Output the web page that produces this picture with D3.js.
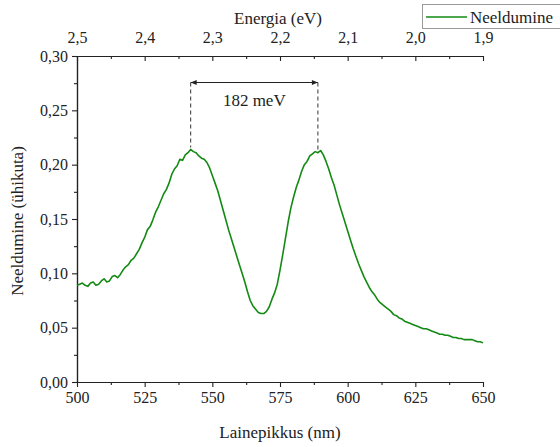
<!DOCTYPE html>
<html>
<head>
<meta charset="utf-8">
<script src="https://cdn.jsdelivr.net/npm/d3@7"></script>
</head>
<body style="margin:0">
<script>
// Absorption spectrum: wavelength (nm) and absorbance (arbitrary units)
const wavelengths = d3.range(500, 651, 1);
const absorbance = [
  0.089, 0.090, 0.091, 0.089, 0.088, 0.091, 0.092, 0.089, 0.090, 0.093,
  0.095, 0.092, 0.093, 0.097, 0.098, 0.096, 0.099, 0.103, 0.106, 0.108,
  0.112, 0.114, 0.118, 0.122, 0.128, 0.133, 0.140, 0.143, 0.149, 0.156,
  0.161, 0.167, 0.173, 0.177, 0.183, 0.191, 0.196, 0.199, 0.205, 0.204,
  0.209, 0.211, 0.214, 0.212, 0.211, 0.208, 0.206, 0.205, 0.202, 0.197,
  0.190, 0.183, 0.176, 0.167, 0.158, 0.149, 0.140, 0.132, 0.124, 0.116,
  0.108, 0.100, 0.092, 0.083, 0.075, 0.070, 0.067, 0.064, 0.063, 0.063,
  0.065, 0.069, 0.076, 0.082, 0.090, 0.103, 0.117, 0.132, 0.147, 0.160,
  0.170, 0.179, 0.186, 0.194, 0.200, 0.203, 0.208, 0.210, 0.212, 0.211,
  0.213, 0.209, 0.203, 0.196, 0.188, 0.181, 0.172, 0.163, 0.155, 0.147,
  0.139, 0.131, 0.123, 0.116, 0.109, 0.103, 0.097, 0.092, 0.087, 0.083,
  0.080, 0.076, 0.073, 0.071, 0.069, 0.067, 0.065, 0.062, 0.061, 0.059,
  0.058, 0.056, 0.055, 0.054, 0.053, 0.052, 0.051, 0.050, 0.049, 0.049,
  0.048, 0.047, 0.046, 0.045, 0.044, 0.044, 0.043, 0.043, 0.042, 0.041,
  0.041, 0.040, 0.040, 0.039, 0.039, 0.039, 0.039, 0.038, 0.037, 0.037,
  0.036
];
const xTicks = [500, 525, 550, 575, 600, 625, 650];
const yTicks = [0, 0.05, 0.10, 0.15, 0.20, 0.25, 0.30];
const energyTicks = [2.5, 2.4, 2.3, 2.2, 2.1, 2.0, 1.9];
// Peak positions used for the splitting annotation (nm)
const peakWavelengths = [542, 589];
const splittingLabel = "182 meV";
const seriesName = "Neeldumine";

const FONT = '"Liberation Serif"';
const INK = "#222";
const svg = d3.select("body").append("svg")
  .attr("id", "spectrum").attr("width", 560).attr("height", 447)
  .style("display", "block");
const plotLeft = 77, plotRight = 483, plotTop = 56, plotBottom = 382;
const color = "#138a13";

const x = d3.scaleLinear().domain([500, 650]).range([plotLeft, plotRight]);
const y = d3.scaleLinear().domain([0, 0.30]).range([plotBottom, plotTop]);
const xE = d3.scaleLinear().domain([2.5, 1.9]).range([plotLeft, plotRight]);

const fmt = d => d3.format(".2f")(d).replace(".", ",");
const fmtE = d => d3.format(".1f")(d).replace(".", ",");

function serif(sel, size) {
  return sel.style("font-family", FONT, "important")
    .style("font-size", size + "px", "important")
    .style("fill", INK);
}

function styleAxis(g) {
  g.attr("font-family", null).attr("font-size", null);
  g.selectAll("path.domain").attr("stroke", INK).attr("stroke-width", 1.2);
  g.selectAll(".tick line").attr("stroke", INK).attr("stroke-width", 1.1);
  g.selectAll(".tick text").call(serif, 16);
}

// minor tick positions
const xMinor = d3.range(512.5, 650, 25);
const yMinor = d3.range(0.025, 0.3, 0.05);
const eMinor = d3.range(2.45, 1.9, -0.1);

// bottom axis
svg.append("g").attr("transform", `translate(0,${plotBottom})`)
  .call(d3.axisBottom(x).tickValues(xTicks).tickSize(5).tickPadding(5).tickSizeOuter(0))
  .call(styleAxis);
svg.append("g").attr("transform", `translate(0,${plotBottom})`)
  .call(d3.axisBottom(x).tickValues(xMinor).tickSize(3).tickFormat("").tickSizeOuter(0))
  .call(styleAxis);

// left axis
svg.append("g").attr("transform", `translate(${plotLeft},0)`)
  .call(d3.axisLeft(y).tickValues(yTicks).tickFormat(fmt).tickSize(5).tickPadding(4).tickSizeOuter(0))
  .call(styleAxis);
svg.append("g").attr("transform", `translate(${plotLeft},0)`)
  .call(d3.axisLeft(y).tickValues(yMinor).tickSize(3).tickFormat("").tickSizeOuter(0))
  .call(styleAxis);

// top energy axis, ticks pointing inward
svg.append("g").attr("transform", `translate(0,${plotTop})`)
  .call(d3.axisTop(xE).tickValues(energyTicks).tickFormat(fmtE).tickSize(-5).tickPadding(13).tickSizeOuter(0))
  .call(styleAxis);
svg.append("g").attr("transform", `translate(0,${plotTop})`)
  .call(d3.axisTop(xE).tickValues(eMinor).tickSize(-3).tickFormat("").tickSizeOuter(0))
  .call(styleAxis);

// free-standing label placed at (px, py)
function label(px, py, text, size, anchor, rotate) {
  return svg.append("text")
    .attr("transform", `translate(${px},${py})${rotate ? ` rotate(${rotate})` : ""}`)
    .attr("text-anchor", anchor).call(serif, size).text(text);
}

// axis titles
label(280, 438, "Lainepikkus (nm)", 17, "middle");
label(23, 221, "Neeldumine (ühikuta)", 17, "middle", -90);
label(278, 24, "Energia (eV)", 17, "middle");

// spectrum line
const data = wavelengths.map((w, i) => ({ w, v: absorbance[i] }));
svg.append("path").datum(data)
  .attr("fill", "none").attr("stroke", color).attr("stroke-width", 1.6)
  .attr("stroke-linejoin", "round")
  .attr("d", d3.line().x(d => x(d.w)).y(d => y(d.v)));

// peak splitting annotation
const arrowY = 82.5;
const defs = svg.append("defs");
["start", "end"].forEach(k => {
  defs.append("marker").attr("id", "arrow-" + k)
    .attr("viewBox", "0 0 10 10").attr("refX", k === "end" ? 10 : 0).attr("refY", 5)
    .attr("markerWidth", 10).attr("markerHeight", 6).attr("markerUnits", "userSpaceOnUse")
    .attr("orient", "auto")
    .append("path")
    .attr("d", k === "end" ? "M0,1 L10,5 L0,9 Z" : "M10,1 L0,5 L10,9 Z")
    .attr("fill", INK);
});
const peakVals = peakWavelengths.map(p => absorbance[wavelengths.indexOf(p)]);
peakWavelengths.forEach((p, i) => {
  svg.append("line")
    .attr("x1", x(p)).attr("x2", x(p))
    .attr("y1", arrowY).attr("y2", y(peakVals[i]) - 2)
    .attr("stroke", "#333").attr("stroke-width", 1).attr("stroke-dasharray", "4,3");
});
svg.append("line")
  .attr("x1", x(peakWavelengths[0])).attr("x2", x(peakWavelengths[1]))
  .attr("y1", arrowY).attr("y2", arrowY)
  .attr("stroke", INK).attr("stroke-width", 1)
  .attr("marker-start", "url(#arrow-start)").attr("marker-end", "url(#arrow-end)");
label((x(peakWavelengths[0]) + x(peakWavelengths[1])) / 2, 106, splittingLabel, 17, "middle");

// legend
const lg = svg.append("g").attr("transform", "translate(422,4)");
lg.append("rect").attr("x", 0.5).attr("y", 0.5).attr("width", 150).attr("height", 24)
  .attr("fill", "#fff").attr("stroke", "#999").attr("stroke-width", 1);
lg.append("line").attr("x1", 4).attr("x2", 45).attr("y1", 13).attr("y2", 13)
  .attr("stroke", color).attr("stroke-width", 1.6);
label(470, 23, seriesName, 17, "start");
</script>
</body>
</html>
